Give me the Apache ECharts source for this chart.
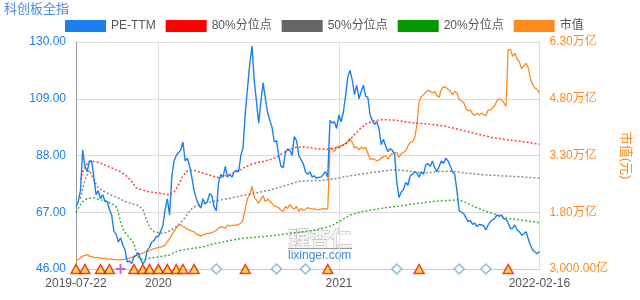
<!DOCTYPE html>
<html><head><meta charset="utf-8">
<script src="https://cdn.jsdelivr.net/npm/echarts@6/dist/echarts.min.js"></script>
<style>html,body{margin:0;padding:0;background:#fff}#c{width:640px;height:300px}</style>
</head><body><div id="c"></div>
<script>
// trading-date samples (every ~3 trading days)
const d2019 = ['07-22','07-25','07-30','08-02','08-07','08-12','08-15','08-20','08-23','08-28','09-02','09-05','09-10','09-16','09-19','09-24','09-27','10-09','10-14','10-17','10-22','10-25','10-30','11-04','11-07','11-12','11-15','11-20','11-25','11-28','12-03','12-06','12-11','12-16','12-19','12-24','12-27'];
const d2020 = ['01-02','01-07','01-10','01-15','01-20','01-23','02-05','02-10','02-13','02-18','02-21','02-26','03-02','03-05','03-10','03-13','03-18','03-23','03-26','03-31','04-03','04-09','04-14','04-17','04-22','04-27','04-30','05-08','05-13','05-18','05-21','05-26','05-29','06-03','06-08','06-11','06-16','06-19','06-24','07-01','07-06','07-09','07-14','07-17','07-22','07-27','07-30','08-04','08-07','08-12','08-17','08-20','08-25','08-28','09-02','09-07','09-10','09-15','09-18','09-23','09-28','10-09','10-14','10-19','10-22','10-27','10-30','11-04','11-09','11-12','11-17','11-20','11-25','11-30','12-03','12-08','12-11','12-16','12-21','12-24','12-29'];
const d2021 = ['01-04','01-07','01-12','01-15','01-20','01-25','01-28','02-02','02-05','02-10','02-22','02-25','03-02','03-05','03-10','03-15','03-18','03-23','03-26','03-31','04-06','04-09','04-14','04-19','04-22','04-27','04-30','05-10','05-13','05-18','05-21','05-26','05-31','06-03','06-08','06-11','06-17','06-22','06-25','06-30','07-05','07-08','07-13','07-16','07-21','07-26','07-29','08-03','08-06','08-11','08-16','08-19','08-24','08-27','09-01','09-06','09-09','09-14','09-17','09-24','09-29','10-11','10-14','10-19','10-22','10-27','11-01','11-04','11-09','11-12','11-17','11-22','11-25','11-30','12-03','12-08','12-13','12-16','12-21','12-24','12-29'];
const d2022 = ['01-04','01-07','01-12','01-17','01-20','01-25','01-28','02-09','02-11','02-16'];
const categories = [].concat(
  d2019.map(d => '2019-' + d), d2020.map(d => '2020-' + d),
  d2021.map(d => '2021-' + d), d2022.map(d => '2022-' + d));

const peTTM = [
69,71,75,90,84,82,86,86,80,73.5,
75,72,73.5,71,71,68,66,60,59,56,
57.5,55,53,48.5,49,48,50.5,51,52,49.5,
48,49,53,54,56,56.5,58,58,60,62,
68,72,66,80,86,88,89,90,93,86,
87,84,80,75,72,70,68.5,72,70,71,
74,73,69,67.5,78,81,80,84,80,81,
80,82,82.5,82,88,91,104,113,122,128.5,
116,108,100,108,115,109,104,101,98.5,93,
93.5,88,84,83.5,89,90.5,90,88,95,93.5,
88,86.5,85,82,81,82,80,80.5,79.5,80,
80,81,82,80,101,100,100.5,98,103,100.5,
104,110,117,119.5,116,110.5,114,109,111.7,114,
110,109.5,103,101,99.5,100.5,98,92,94,91.5,
89.5,90.5,90,88.5,78,72.5,74.5,75.5,78,77,
80.5,81,82,81.5,80,82,81,84.5,85,84,
86,83.5,82,84,86,85,87,86,84,82,
81,75,67.5,67,66.5,65,63.5,64,62.5,63,
61.7,62.5,62.3,62,60.5,62.3,63.5,64.2,64.8,66,
65.5,66,64.5,64.5,63,61,61,62.3,60.5,59.8,
58.5,59,59.8,57.2,54.8,53,52.4,51.6,52.5];

// market cap, 万亿
const marketCap = [
0.52,0.55,0.6,0.64,0.66,0.68,0.64,0.63,0.61,0.6,
0.6,0.58,0.58,0.58,0.57,0.57,0.56,0.55,0.55,0.54,
0.55,0.55,0.56,0.58,0.59,0.6,0.64,0.66,0.68,0.7,
0.72,0.75,0.77,0.78,0.81,0.84,0.85,0.87,0.88,0.9,
0.93,1.02,1.1,1.2,1.3,1.38,1.45,1.47,1.42,1.4,
1.35,1.32,1.3,1.29,1.22,1.2,1.17,1.2,1.22,1.24,
1.24,1.26,1.29,1.32,1.38,1.42,1.4,1.38,1.46,1.43,
1.45,1.46,1.46,1.48,1.51,1.6,1.91,2.17,2.26,2.48,
2.2,2.12,2.04,2.15,2.24,2.08,2.15,2.08,2.04,1.96,
1.95,1.92,1.85,1.82,1.95,1.9,2.0,1.93,1.88,1.96,
1.82,1.9,1.85,1.88,1.92,1.9,1.89,1.89,1.87,1.87,
1.88,1.9,1.89,1.89,3.5,3.48,3.4,3.53,3.5,3.56,
3.58,3.62,3.67,3.75,3.65,3.5,3.53,3.45,3.52,3.48,
3.52,3.36,3.2,3.22,3.2,3.16,3.18,3.23,3.27,3.3,
3.2,3.3,3.35,3.37,3.38,3.25,3.35,3.38,3.42,3.55,
3.65,3.66,3.76,4.1,4.72,4.86,4.9,4.98,5.02,5.0,
4.95,5.0,4.88,4.84,5.05,5.13,5.1,5.05,5.0,4.9,
5.0,4.95,4.78,4.75,4.7,4.55,4.48,4.5,4.4,4.36,
4.42,4.37,4.42,4.38,4.35,4.5,4.5,4.56,4.62,4.76,
4.8,4.77,4.7,4.6,6.1,6.1,5.92,6.0,5.85,5.78,
5.6,5.66,5.74,5.62,5.32,5.17,5.08,5.05,4.95];

// percentile lines: [category index, value]
const p80 = [[2,79],[3,82],[5,85],[7,86],[11,85.2],[15,83.8],[20,82],[23,80.2],[25,78.4],[27,76],[32,74.7],[38,74],[42,73.4],[44,74.5],[46,77],[48,80.5],[50,82.3],[53,82.5],[57,81.5],[61,80.5],[64,79.8],[66,80.2],[69,81],[72,82],[75,83.3],[78,84.5],[81,85.3],[84,85.8],[87,86.4],[90,87.4],[93,89],[96,90.4],[99,91],[102,91.2],[104,91],[108,90.5],[113,90.3],[118,91.1],[121,92.2],[124,94.8],[127,97.5],[130,99.6],[133,100.6],[136,101.2],[140,101.2],[144,101],[148,100.4],[152,100],[155,99.8],[160,99.5],[166,98.8],[172,97.6],[178,96.4],[181,95.8],[187,94.6],[193,93.9],[199,93.3],[204,92.7],[208,92.2]];
const p50 = [[2,72],[4,79],[6,82.6],[8,79],[10,76],[13,74.5],[16,73.3],[19,72.2],[22,71],[25,70.2],[28,69.5],[30,68],[31,65.5],[33,61.5],[35,59.8],[38,59.2],[41,59.6],[43,60.5],[45,61.7],[48,64],[50,66.3],[52,68.3],[54,69.4],[58,70.4],[63,71.2],[69,72.2],[75,73.2],[81,74.2],[87,75.2],[92,76.4],[96,77.4],[100,78.4],[104,78.6],[110,78.8],[116,79.4],[121,80.2],[127,81],[133,81.7],[138,82.3],[143,82.7],[148,82.4],[153,81.8],[157,81.6],[163,82.1],[168,82.2],[175,81.5],[184,80.8],[193,80.4],[200,80.1],[208,79.6]];
const p20 = [[0,67],[1,68.5],[3,71],[5,72],[8,72.4],[11,71.6],[14,71],[17,69.7],[18,69],[19,67],[20,63.5],[21,61],[22,59.5],[24,57.6],[26,55.5],[27,52.5],[28,50.3],[30,49.4],[33,50],[38,50.6],[42,51.2],[46,52.8],[52,53.6],[57,54.2],[63,55.5],[69,56.5],[75,57.4],[81,57.8],[87,58.2],[93,58.8],[99,59.5],[104,60],[109,60.7],[115,62.1],[119,64],[123,66],[128,67.2],[133,67.9],[139,68.7],[145,69.3],[151,70],[156,70.5],[160,71],[166,71.3],[171,71.6],[174,71],[179,69],[184,67.3],[189,66],[193,64.9],[199,64.2],[208,63.2]];

// event markers (category indices)
const triangleIdx = [0,4,11,15,26,30,33,37,41,45,48,53,76,113,154,194];
const plusIdx = [20];
const diamondIdx = [63,90,103,144,172,184];

const leftTicks = [46,67,88,109,130];
const rightTicks = [0.3,1.8,3.3,4.8,6.3];
const labelIdx = [0,37,118,208];
const yearSplitIdx = [37,118];

const FONT = "'Liberation Sans','Noto Sans CJK SC',sans-serif";
const BLUE = '#1a80f0', ORANGE = '#ff8a1c';

const chart = echarts.init(document.getElementById('c'), null, {renderer:'canvas'});
const axisY = 46;
chart.setOption({
  animation: false,
  textStyle: {fontFamily: FONT},
  title: {text: '科创板全指', left: 4, top: 3, padding: 0,
    textStyle: {fontSize: 13, fontWeight: 'normal', color: '#4b8ce0', fontFamily: FONT}},
  legend: {
    left: 65, top: 20, padding: 0, itemWidth: 41, itemHeight: 12, itemGap: 10, icon: 'rect',
    textStyle: {fontSize: 12, color: '#555', fontFamily: FONT},
    data: ['PE-TTM','80%分位点','50%分位点','20%分位点','市值']
  },
  grid: {left: 76, right: 98, top: 42, bottom: 31, containLabel: false},
  xAxis: {
    type: 'category', data: categories, boundaryGap: false,
    axisLine: {lineStyle: {color: '#ccc'}},
    axisTick: {show: false},
    axisLabel: {color: '#555', fontSize: 12, margin: 9, fontFamily: FONT,
      interval: (i) => labelIdx.includes(i),
      formatter: (v, i) => (i === 0 || i === categories.length - 1) ? v : v.slice(0, 4)},
    splitLine: {show: true, interval: (i) => yearSplitIdx.includes(i), lineStyle: {color: '#ddd'}}
  },
  yAxis: [{
    type: 'value', min: 46, max: 130, position: 'left',
    axisLine: {show: true, lineStyle: {color: '#999'}},
    axisTick: {show: false, customValues: leftTicks},
    axisLabel: {color: BLUE, fontSize: 12, margin: 10, customValues: leftTicks, fontFamily: FONT,
      formatter: v => v.toFixed(2)},
    splitLine: {show: true, lineStyle: {color: '#ddd'}}
  }, {
    type: 'value', min: 0.3, max: 6.3, position: 'right',
    name: '市值(元)', nameLocation: 'middle', nameRotate: -90, nameGap: 78,
    nameTextStyle: {color: ORANGE, fontSize: 13, fontFamily: FONT},
    axisLine: {show: true, lineStyle: {color: '#ddd'}},
    axisTick: {show: false, customValues: rightTicks},
    axisLabel: {color: ORANGE, fontSize: 12, margin: 10, customValues: rightTicks, fontFamily: FONT,
      formatter: v => v >= 1 ? v.toFixed(2) + '万亿'
        : (v * 10000).toLocaleString('en-US', {minimumFractionDigits: 2, maximumFractionDigits: 2}) + '亿'},
    splitLine: {show: false}
  }],
  graphic: [
    {type: 'text', left: 288, top: 227, z: 0, style: {text: '理杏仁', font: 'bold 21px "Noto Sans CJK SC"', fill: '#f4f4f4', stroke: '#a8a8a8', lineWidth: 0.8}},
    {type: 'line', z: 0, shape: {x1: 288, y1: 248.5, x2: 352, y2: 248.5}, style: {stroke: '#999', lineWidth: 1}},
    {type: 'text', left: 288, top: 250, z: 0, style: {text: 'lixinger.com', font: '12px "Liberation Sans"', fill: '#3a8ee0'}}
  ],
  series: [
    {name: '市值', type: 'line', yAxisIndex: 1, data: marketCap, showSymbol: false, symbol: 'none',
      color: ORANGE, lineStyle: {width: 1.3, color: ORANGE}, z: 2},
    {name: '80%分位点', type: 'line', data: p80, showSymbol: false, symbol: 'none', color: '#ff0000',
      lineStyle: {width: 1.5, type: [2, 2], color: '#ff0000', opacity: 0.75}, z: 3},
    {name: '50%分位点', type: 'line', data: p50, showSymbol: false, symbol: 'none', color: '#666666',
      lineStyle: {width: 1.5, type: [2, 2], color: '#666666', opacity: 0.75}, z: 3},
    {name: '20%分位点', type: 'line', data: p20, showSymbol: false, symbol: 'none', color: '#009900',
      lineStyle: {width: 1.5, type: [2, 2], color: '#009900', opacity: 0.75}, z: 3},
    {name: 'PE-TTM', type: 'line', data: peTTM, showSymbol: false, symbol: 'none', color: BLUE,
      lineStyle: {width: 1.4, color: BLUE}, z: 4},
    {type: 'scatter', data: triangleIdx.map(i => [i, axisY]), symbol: 'triangle', symbolSize: [10, 9], clip: false, z: 5,
      itemStyle: {color: '#ffd21f', borderColor: '#e8140c', borderWidth: 1.5}},
    {type: 'scatter', data: diamondIdx.map(i => [i, axisY]), symbol: 'diamond', symbolSize: 10, clip: false, z: 5,
      itemStyle: {color: '#ffffff', borderColor: '#6aaed0', borderWidth: 1.5}},
    {type: 'scatter', data: plusIdx.map(i => [i, axisY]), symbol: 'path://M4,0H6V4H10V6H6V10H4V6H0V4H4Z', symbolSize: 10, clip: false, z: 5,
      itemStyle: {color: '#c040e0'}}
  ]
});
</script></body></html>
